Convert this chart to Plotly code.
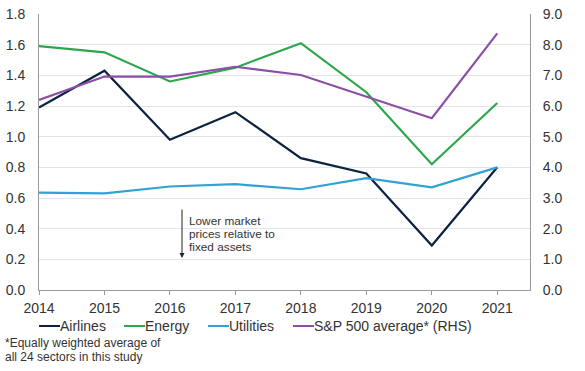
import plotly.graph_objects as go

years = [2014, 2015, 2016, 2017, 2018, 2019, 2020, 2021]
airlines = [1.19, 1.43, 0.98, 1.16, 0.86, 0.76, 0.29, 0.80]
energy = [1.59, 1.55, 1.36, 1.45, 1.61, 1.29, 0.82, 1.22]
utilities = [0.635, 0.63, 0.675, 0.69, 0.657, 0.73, 0.67, 0.80]
sp500 = [6.2, 6.96, 6.96, 7.28, 7.01, 6.3, 5.6, 8.37]

series_names = ["Airlines", "Energy", "Utilities", "S&P 500 average* (RHS)"]
series_colors = ["#0d2240", "#2ca64c", "#30a2d4", "#8b4fa6"]

left_ticks = [0.0, 0.2, 0.4, 0.6, 0.8, 1.0, 1.2, 1.4, 1.6, 1.8]
right_ticks = [0, 1, 2, 3, 4, 5, 6, 7, 8, 9]

note_lines = ["Lower market", "prices relative to", "fixed assets"]
footnote_lines = ["*Equally weighted average of", "all 24 sectors in this study"]

FONT = "Liberation Sans, Arial, sans-serif"
W, H = 585, 371
ML, MR, MT, MB = 39, 55, 14, 81
PW, PH = W - ML - MR, H - MT - MB


def px_x(px):
    return (px - ML) / PW


def px_y(py):
    return (H - MB - py) / PH


fig = go.Figure()
for name, vals, col, ax in zip(series_names, [airlines, energy, utilities, sp500],
                               series_colors, ["y", "y", "y", "y2"]):
    fig.add_trace(go.Scatter(x=years, y=vals, name=name, mode="lines", yaxis=ax,
                             line=dict(color=col, width=2.2), showlegend=False))

fig.update_layout(
    width=W, height=H,
    margin=dict(l=ML, r=MR, t=MT, b=MB),
    paper_bgcolor="white", plot_bgcolor="white",
    font=dict(family=FONT, size=14, color="#333333"),
    xaxis=dict(range=[2014, 2021.5], tickvals=years, ticks="outside", ticklen=4,
               tickcolor="#999999", showline=True, linecolor="#999999", showgrid=False,
               zeroline=False, tickfont=dict(size=14), automargin=False,
               ticklabelstandoff=1),
    yaxis=dict(range=[0, 1.8], tickvals=left_ticks, tickformat=".1f", showline=True,
               linecolor="#999999", gridcolor="#e4e4e4", zeroline=False,
               tickfont=dict(size=14), ticks="", ticklabelstandoff=10, automargin=False),
    yaxis2=dict(range=[0, 9], tickvals=right_ticks, tickformat=".1f", overlaying="y",
                side="right", showline=True, linecolor="#999999", showgrid=False,
                zeroline=False, tickfont=dict(size=14), ticklabelstandoff=9,
                ticks="", automargin=False),
    showlegend=False,
)

# manual legend (short line keys like the reference)
legend_x = [39, 124, 208, 293]
ly = px_y(326)
for name, col, lx in zip(series_names, series_colors, legend_x):
    fig.add_shape(type="line", xref="paper", yref="paper",
                  x0=px_x(lx), x1=px_x(lx + 21), y0=ly, y1=ly,
                  line=dict(color=col, width=2))
    fig.add_annotation(x=px_x(lx + 21), y=ly, xref="paper", yref="paper",
                       xanchor="left", yanchor="middle", showarrow=False, text=name,
                       font=dict(size=14, color="#333333"), xshift=-2)

fig.add_annotation(x=px_x(182), y=px_y(258), ax=0, ay=-50,
                   xref="paper", yref="paper", axref="pixel", ayref="pixel",
                   showarrow=True, arrowhead=2, arrowsize=1,
                   arrowwidth=1, arrowcolor="#222222", text="")
for i, t in enumerate(note_lines):
    fig.add_annotation(x=px_x(189), y=px_y(221 + 13.2 * i), xref="paper", yref="paper",
                       xanchor="left", yanchor="middle", showarrow=False, text=t,
                       font=dict(size=11.8, color="#333333"), xshift=-2)
for i, t in enumerate(footnote_lines):
    fig.add_annotation(x=px_x(5), y=px_y(343 + 14 * i), xref="paper", yref="paper",
                       xanchor="left", yanchor="middle", showarrow=False, text=t,
                       font=dict(size=12, color="#333333"), xshift=-2)

fig.write_html("out.html", config={"displayModeBar": False},
               post_script="document.body.style.margin='0px';")
